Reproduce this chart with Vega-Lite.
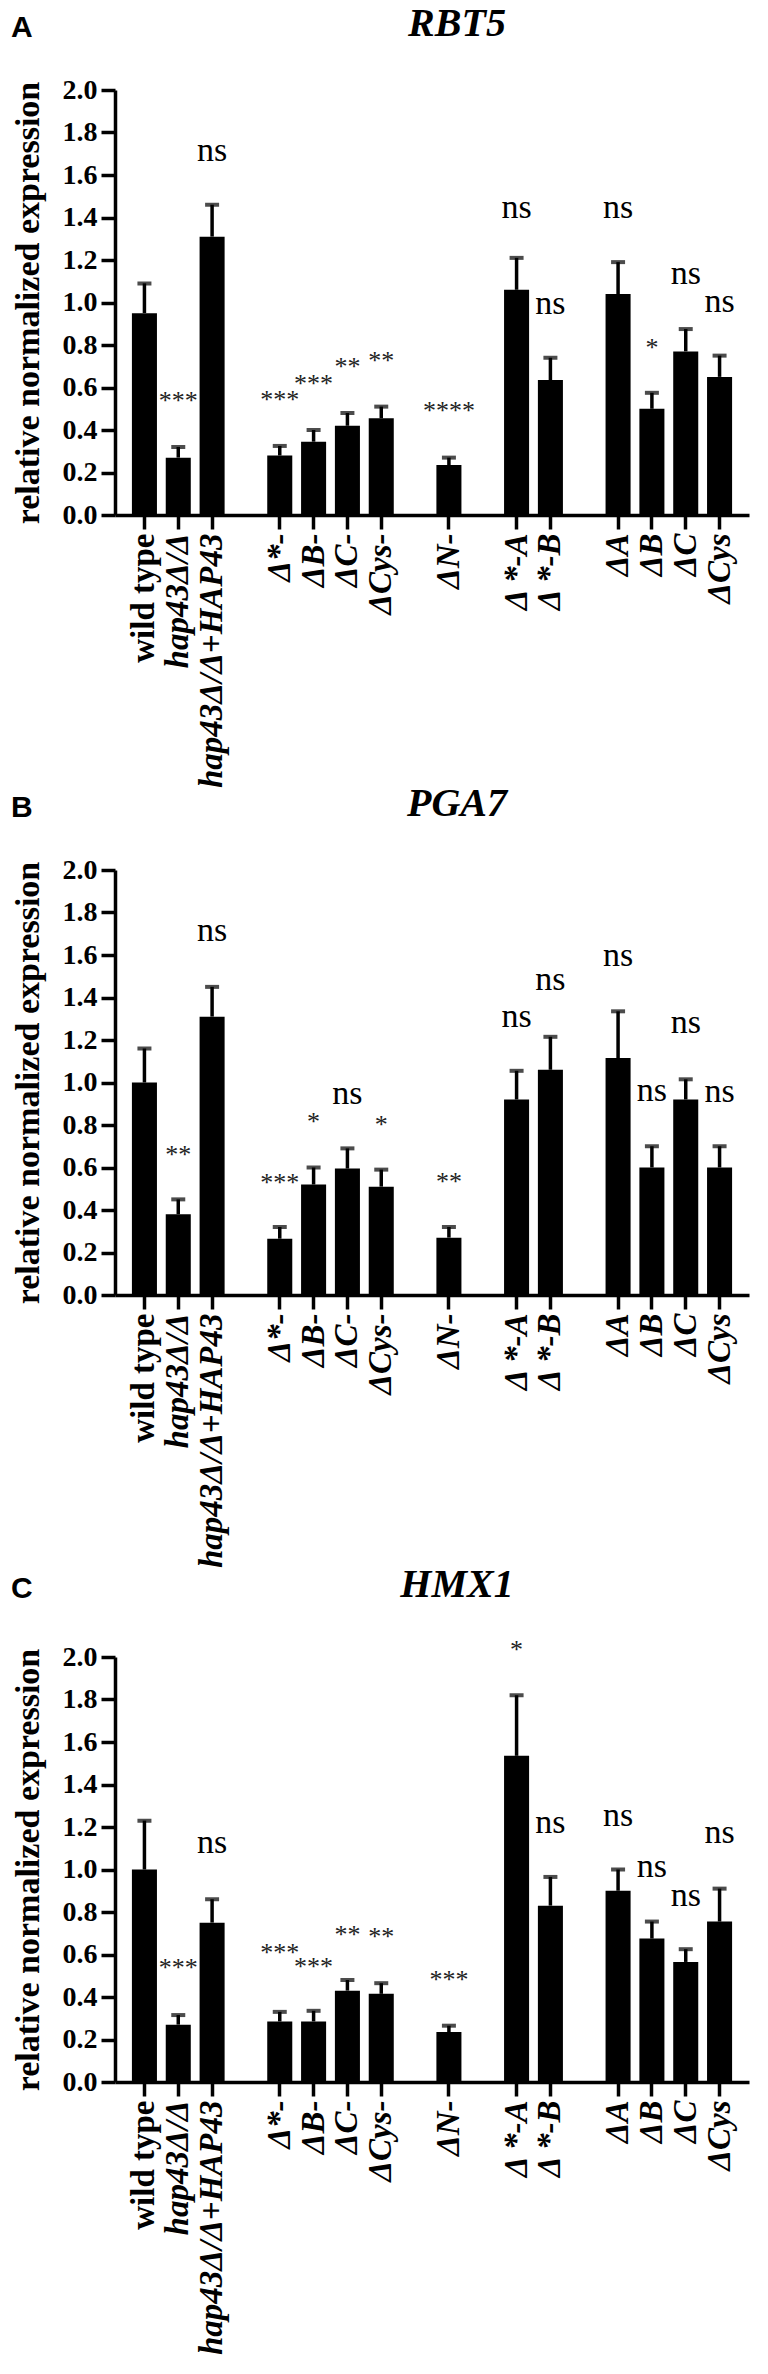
{
  "$schema": "https://vega.github.io/schema/vega-lite/v6.json",
  "background": "white",
  "padding": {"left": 11, "top": 4, "right": 8, "bottom": 0},
  "spacing": -4,
  "config": {
    "view": {"stroke": null},
    "axis": {
      "grid": false,
      "domainColor": "black",
      "domainWidth": 3.5,
      "tickColor": "black",
      "tickWidth": 3.5,
      "tickSize": 14,
      "labelColor": "black",
      "labelFont": "Liberation Serif",
      "labelFontWeight": "bold",
      "labelLimit": 600,
      "titleColor": "black",
      "titleFont": "Liberation Serif",
      "titleFontWeight": "bold"
    },
    "title": {"color": "black"}
  },
  "datasets": {
    "expr": [
      {"gene": "RBT5", "strain": "wild type", "mean": 0.95, "upper": 1.09, "sig": null, "sig_y": null},
      {"gene": "RBT5", "strain": "hap43Δ/Δ", "mean": 0.27, "upper": 0.32, "sig": "***", "sig_y": 0.56},
      {"gene": "RBT5", "strain": "hap43Δ/Δ+HAP43", "mean": 1.31, "upper": 1.46, "sig": "ns", "sig_y": 1.70},
      {"gene": "RBT5", "strain": "Δ*-", "mean": 0.28, "upper": 0.325, "sig": "***", "sig_y": 0.565},
      {"gene": "RBT5", "strain": "ΔB-", "mean": 0.345, "upper": 0.40, "sig": "***", "sig_y": 0.64},
      {"gene": "RBT5", "strain": "ΔC-", "mean": 0.42, "upper": 0.48, "sig": "**", "sig_y": 0.72},
      {"gene": "RBT5", "strain": "ΔCys-", "mean": 0.455, "upper": 0.51, "sig": "**", "sig_y": 0.75},
      {"gene": "RBT5", "strain": "ΔN-", "mean": 0.235, "upper": 0.27, "sig": "****", "sig_y": 0.515},
      {"gene": "RBT5", "strain": "Δ *-A", "mean": 1.06, "upper": 1.21, "sig": "ns", "sig_y": 1.43},
      {"gene": "RBT5", "strain": "Δ *-B", "mean": 0.635, "upper": 0.74, "sig": "ns", "sig_y": 0.98},
      {"gene": "RBT5", "strain": "ΔA", "mean": 1.04, "upper": 1.19, "sig": "ns", "sig_y": 1.43},
      {"gene": "RBT5", "strain": "ΔB", "mean": 0.50, "upper": 0.575, "sig": "*", "sig_y": 0.81},
      {"gene": "RBT5", "strain": "ΔC", "mean": 0.77, "upper": 0.875, "sig": "ns", "sig_y": 1.12},
      {"gene": "RBT5", "strain": "ΔCys", "mean": 0.65, "upper": 0.75, "sig": "ns", "sig_y": 0.99},

      {"gene": "PGA7", "strain": "wild type", "mean": 1.00, "upper": 1.16, "sig": null, "sig_y": null},
      {"gene": "PGA7", "strain": "hap43Δ/Δ", "mean": 0.38, "upper": 0.45, "sig": "**", "sig_y": 0.684},
      {"gene": "PGA7", "strain": "hap43Δ/Δ+HAP43", "mean": 1.31, "upper": 1.45, "sig": "ns", "sig_y": 1.70},
      {"gene": "PGA7", "strain": "Δ*-", "mean": 0.265, "upper": 0.32, "sig": "***", "sig_y": 0.551},
      {"gene": "PGA7", "strain": "ΔB-", "mean": 0.52, "upper": 0.60, "sig": "*", "sig_y": 0.84},
      {"gene": "PGA7", "strain": "ΔC-", "mean": 0.595, "upper": 0.69, "sig": "ns", "sig_y": 0.93},
      {"gene": "PGA7", "strain": "ΔCys-", "mean": 0.51, "upper": 0.59, "sig": "*", "sig_y": 0.825},
      {"gene": "PGA7", "strain": "ΔN-", "mean": 0.27, "upper": 0.32, "sig": "**", "sig_y": 0.555},
      {"gene": "PGA7", "strain": "Δ *-A", "mean": 0.92, "upper": 1.055, "sig": "ns", "sig_y": 1.294},
      {"gene": "PGA7", "strain": "Δ *-B", "mean": 1.06, "upper": 1.215, "sig": "ns", "sig_y": 1.466},
      {"gene": "PGA7", "strain": "ΔA", "mean": 1.115, "upper": 1.335, "sig": "ns", "sig_y": 1.58},
      {"gene": "PGA7", "strain": "ΔB", "mean": 0.60, "upper": 0.70, "sig": "ns", "sig_y": 0.944},
      {"gene": "PGA7", "strain": "ΔC", "mean": 0.92, "upper": 1.015, "sig": "ns", "sig_y": 1.268},
      {"gene": "PGA7", "strain": "ΔCys", "mean": 0.60, "upper": 0.70, "sig": "ns", "sig_y": 0.939},

      {"gene": "HMX1", "strain": "wild type", "mean": 1.00, "upper": 1.23, "sig": null, "sig_y": null},
      {"gene": "HMX1", "strain": "hap43Δ/Δ", "mean": 0.27, "upper": 0.315, "sig": "***", "sig_y": 0.558},
      {"gene": "HMX1", "strain": "hap43Δ/Δ+HAP43", "mean": 0.75, "upper": 0.86, "sig": "ns", "sig_y": 1.112},
      {"gene": "HMX1", "strain": "Δ*-", "mean": 0.285, "upper": 0.33, "sig": "***", "sig_y": 0.631},
      {"gene": "HMX1", "strain": "ΔB-", "mean": 0.285, "upper": 0.335, "sig": "***", "sig_y": 0.565},
      {"gene": "HMX1", "strain": "ΔC-", "mean": 0.43, "upper": 0.48, "sig": "**", "sig_y": 0.714},
      {"gene": "HMX1", "strain": "ΔCys-", "mean": 0.415, "upper": 0.465, "sig": "**", "sig_y": 0.706},
      {"gene": "HMX1", "strain": "ΔN-", "mean": 0.235, "upper": 0.265, "sig": "***", "sig_y": 0.503},
      {"gene": "HMX1", "strain": "Δ *-A", "mean": 1.535, "upper": 1.82, "sig": "*", "sig_y": 2.058},
      {"gene": "HMX1", "strain": "Δ *-B", "mean": 0.83, "upper": 0.965, "sig": "ns", "sig_y": 1.206},
      {"gene": "HMX1", "strain": "ΔA", "mean": 0.90, "upper": 1.00, "sig": "ns", "sig_y": 1.24},
      {"gene": "HMX1", "strain": "ΔB", "mean": 0.675, "upper": 0.755, "sig": "ns", "sig_y": 1.0},
      {"gene": "HMX1", "strain": "ΔC", "mean": 0.565, "upper": 0.625, "sig": "ns", "sig_y": 0.863},
      {"gene": "HMX1", "strain": "ΔCys", "mean": 0.755, "upper": 0.91, "sig": "ns", "sig_y": 1.156}
    ]
  },
  "vconcat": [
    {
      "title": {"text": "A", "anchor": "start", "frame": "bounds", "font": "Liberation Sans", "fontSize": 30, "fontWeight": "bold", "offset": -39},
      "vconcat": [
        {
          "width": 634, "height": 425,
          "title": {"text": "RBT5", "font": "Liberation Serif", "fontSize": 40, "fontStyle": "italic", "fontWeight": "bold", "anchor": "middle", "offset": 32, "dx": 25},
          "data": {"name": "expr"},
          "transform": [{"filter": "datum.gene == 'RBT5'"}],
          "encoding": {
            "x": {"field": "strain", "type": "nominal", "title": null,
              "scale": {"domain": ["wild type", "hap43Δ/Δ", "hap43Δ/Δ+HAP43", " ", "Δ*-", "ΔB-", "ΔC-", "ΔCys-", "  ", "ΔN-", "   ", "Δ *-A", "Δ *-B", "    ", "ΔA", "ΔB", "ΔC", "ΔCys"], "paddingInner": 0.26, "paddingOuter": 0.5},
              "axis": {"values": ["wild type", "hap43Δ/Δ", "hap43Δ/Δ+HAP43", "Δ*-", "ΔB-", "ΔC-", "ΔCys-", "ΔN-", "Δ *-A", "Δ *-B", "ΔA", "ΔB", "ΔC", "ΔCys"], "labelAngle": 270, "labelFontSize": 33, "labelPadding": 4,
                "labelFontStyle": {"condition": {"test": "datum.value == 'wild type'", "value": "normal"}, "value": "italic"}}
            }
          },
          "layer": [
            {"mark": {"type": "bar", "color": "black"},
             "encoding": {"y": {"field": "mean", "type": "quantitative", "title": "relative normalized expression", "scale": {"domain": [0, 2]},
               "axis": {"values": [0, 0.2, 0.4, 0.6, 0.8, 1.0, 1.2, 1.4, 1.6, 1.8, 2.0], "format": ".1f", "labelFontSize": 28, "labelPadding": 4, "titleFontSize": 34, "titlePadding": 17}}}},
            {"mark": {"type": "rule", "color": "black", "strokeWidth": 3.5},
             "encoding": {"y": {"field": "mean", "type": "quantitative", "title": "relative normalized expression"}, "y2": {"field": "upper"}}},
            {"mark": {"type": "tick", "color": "black", "thickness": 4, "size": 14},
             "encoding": {"y": {"field": "upper", "type": "quantitative", "title": "relative normalized expression"}}},
            {"transform": [{"filter": "datum.sig == 'ns'"}],
             "mark": {"type": "text", "font": "Liberation Serif", "fontSize": 34, "color": "black", "dy": -3},
             "encoding": {"y": {"field": "sig_y", "type": "quantitative", "title": "relative normalized expression"}, "text": {"field": "sig"}}},
            {"transform": [{"filter": "datum.sig && datum.sig != 'ns'"}],
             "mark": {"type": "text", "font": "Liberation Serif", "fontSize": 26, "color": "#222222", "dy": 5},
             "encoding": {"y": {"field": "sig_y", "type": "quantitative", "title": "relative normalized expression"}, "text": {"field": "sig"}}}
          ]
        }
      ]
    },
    {
      "title": {"text": "B", "anchor": "start", "frame": "bounds", "font": "Liberation Sans", "fontSize": 30, "fontWeight": "bold", "offset": -39},
      "vconcat": [
        {
          "width": 634, "height": 425,
          "title": {"text": "PGA7", "font": "Liberation Serif", "fontSize": 40, "fontStyle": "italic", "fontWeight": "bold", "anchor": "middle", "offset": 32, "dx": 25},
          "data": {"name": "expr"},
          "transform": [{"filter": "datum.gene == 'PGA7'"}],
          "encoding": {
            "x": {"field": "strain", "type": "nominal", "title": null,
              "scale": {"domain": ["wild type", "hap43Δ/Δ", "hap43Δ/Δ+HAP43", " ", "Δ*-", "ΔB-", "ΔC-", "ΔCys-", "  ", "ΔN-", "   ", "Δ *-A", "Δ *-B", "    ", "ΔA", "ΔB", "ΔC", "ΔCys"], "paddingInner": 0.26, "paddingOuter": 0.5},
              "axis": {"values": ["wild type", "hap43Δ/Δ", "hap43Δ/Δ+HAP43", "Δ*-", "ΔB-", "ΔC-", "ΔCys-", "ΔN-", "Δ *-A", "Δ *-B", "ΔA", "ΔB", "ΔC", "ΔCys"], "labelAngle": 270, "labelFontSize": 33, "labelPadding": 4,
                "labelFontStyle": {"condition": {"test": "datum.value == 'wild type'", "value": "normal"}, "value": "italic"}}
            }
          },
          "layer": [
            {"mark": {"type": "bar", "color": "black"},
             "encoding": {"y": {"field": "mean", "type": "quantitative", "title": "relative normalized expression", "scale": {"domain": [0, 2]},
               "axis": {"values": [0, 0.2, 0.4, 0.6, 0.8, 1.0, 1.2, 1.4, 1.6, 1.8, 2.0], "format": ".1f", "labelFontSize": 28, "labelPadding": 4, "titleFontSize": 34, "titlePadding": 17}}}},
            {"mark": {"type": "rule", "color": "black", "strokeWidth": 3.5},
             "encoding": {"y": {"field": "mean", "type": "quantitative", "title": "relative normalized expression"}, "y2": {"field": "upper"}}},
            {"mark": {"type": "tick", "color": "black", "thickness": 4, "size": 14},
             "encoding": {"y": {"field": "upper", "type": "quantitative", "title": "relative normalized expression"}}},
            {"transform": [{"filter": "datum.sig == 'ns'"}],
             "mark": {"type": "text", "font": "Liberation Serif", "fontSize": 34, "color": "black", "dy": -3},
             "encoding": {"y": {"field": "sig_y", "type": "quantitative", "title": "relative normalized expression"}, "text": {"field": "sig"}}},
            {"transform": [{"filter": "datum.sig && datum.sig != 'ns'"}],
             "mark": {"type": "text", "font": "Liberation Serif", "fontSize": 26, "color": "#222222", "dy": 5},
             "encoding": {"y": {"field": "sig_y", "type": "quantitative", "title": "relative normalized expression"}, "text": {"field": "sig"}}}
          ]
        }
      ]
    },
    {
      "title": {"text": "C", "anchor": "start", "frame": "bounds", "font": "Liberation Sans", "fontSize": 30, "fontWeight": "bold", "offset": -39},
      "vconcat": [
        {
          "width": 634, "height": 425,
          "title": {"text": "HMX1", "font": "Liberation Serif", "fontSize": 40, "fontStyle": "italic", "fontWeight": "bold", "anchor": "middle", "offset": 32, "dx": 25},
          "data": {"name": "expr"},
          "transform": [{"filter": "datum.gene == 'HMX1'"}],
          "encoding": {
            "x": {"field": "strain", "type": "nominal", "title": null,
              "scale": {"domain": ["wild type", "hap43Δ/Δ", "hap43Δ/Δ+HAP43", " ", "Δ*-", "ΔB-", "ΔC-", "ΔCys-", "  ", "ΔN-", "   ", "Δ *-A", "Δ *-B", "    ", "ΔA", "ΔB", "ΔC", "ΔCys"], "paddingInner": 0.26, "paddingOuter": 0.5},
              "axis": {"values": ["wild type", "hap43Δ/Δ", "hap43Δ/Δ+HAP43", "Δ*-", "ΔB-", "ΔC-", "ΔCys-", "ΔN-", "Δ *-A", "Δ *-B", "ΔA", "ΔB", "ΔC", "ΔCys"], "labelAngle": 270, "labelFontSize": 33, "labelPadding": 4,
                "labelFontStyle": {"condition": {"test": "datum.value == 'wild type'", "value": "normal"}, "value": "italic"}}
            }
          },
          "layer": [
            {"mark": {"type": "bar", "color": "black"},
             "encoding": {"y": {"field": "mean", "type": "quantitative", "title": "relative normalized expression", "scale": {"domain": [0, 2]},
               "axis": {"values": [0, 0.2, 0.4, 0.6, 0.8, 1.0, 1.2, 1.4, 1.6, 1.8, 2.0], "format": ".1f", "labelFontSize": 28, "labelPadding": 4, "titleFontSize": 34, "titlePadding": 17}}}},
            {"mark": {"type": "rule", "color": "black", "strokeWidth": 3.5},
             "encoding": {"y": {"field": "mean", "type": "quantitative", "title": "relative normalized expression"}, "y2": {"field": "upper"}}},
            {"mark": {"type": "tick", "color": "black", "thickness": 4, "size": 14},
             "encoding": {"y": {"field": "upper", "type": "quantitative", "title": "relative normalized expression"}}},
            {"transform": [{"filter": "datum.sig == 'ns'"}],
             "mark": {"type": "text", "font": "Liberation Serif", "fontSize": 34, "color": "black", "dy": -3},
             "encoding": {"y": {"field": "sig_y", "type": "quantitative", "title": "relative normalized expression"}, "text": {"field": "sig"}}},
            {"transform": [{"filter": "datum.sig && datum.sig != 'ns'"}],
             "mark": {"type": "text", "font": "Liberation Serif", "fontSize": 26, "color": "#222222", "dy": 5},
             "encoding": {"y": {"field": "sig_y", "type": "quantitative", "title": "relative normalized expression"}, "text": {"field": "sig"}}}
          ]
        }
      ]
    }
  ]
}
